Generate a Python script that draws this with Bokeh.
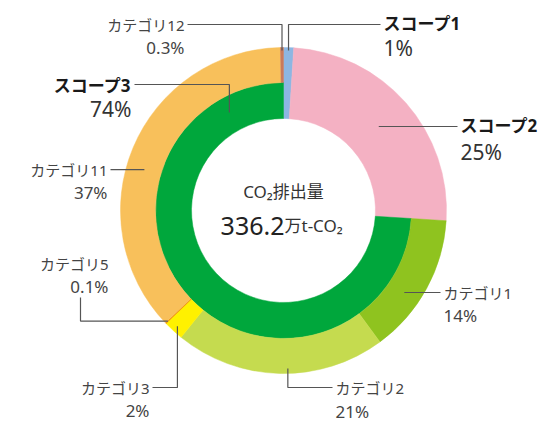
import math
from bokeh.plotting import figure
from bokeh.models import ColumnDataSource, Range1d
from bokeh.core.properties import value
from bokeh.embed import file_html
from bokeh.resources import INLINE

# ---------------- data ----------------
scope_names = ["スコープ1", "スコープ2", "スコープ3"]
scope_pct = [1, 25, 74]
category_names = ["カテゴリ1", "カテゴリ2", "カテゴリ3", "カテゴリ5", "カテゴリ11", "カテゴリ12"]
category_pct = [14, 21, 2, 0.1, 37, 0.3]
center_title = "CO₂排出量"
total_value = "336.2"
total_unit = "万t-CO₂"

# ---------------- styles ----------------
scope_colors = ["#8db6e2", "#f4b1c3", "#00a73c"]
category_colors = ["#8fc31f", "#c5db4f", "#fff100", "#f08a00", "#f8c05b", "#c97a5c"]

W, H = 540, 421
CX, CY = 283, 210          # centre of the donut, pixels from top-left
R_IN, R_MID, R_OUT = 92, 128, 163

FONT_JP = "Noto Sans, Noto Sans CJK JP"
FONT_NUM = "Noto Sans, Noto Sans CJK JP"

# label layout (pixels from top-left): anchor radius, angle shift (deg),
# leader route, text x, alignment, name y, percent y
LAYOUT = {
    "スコープ1": dict(r=160, shift=0, route=[("v", 24), ("h", 380)], tx=383, align="left", ny=23, py=47),
    "スコープ2": dict(r=127, shift=0, route=[("h", 457)], tx=460, align="left", ny=125, py=151),
    "スコープ3": dict(r=112, shift=104.3, route=[("v", 84), ("h", 134)], tx=131, align="right", ny=85, py=108),
    "カテゴリ1": dict(r=146, shift=5.5, route=[("h", 440)], tx=443, align="left", ny=292, py=315),
    "カテゴリ2": dict(r=158, shift=-2.9, route=[("v", 387), ("h", 332)], tx=335, align="left", ny=387, py=411),
    "カテゴリ3": dict(r=157, shift=0, route=[("v", 387), ("h", 152)], tx=149, align="right", ny=387, py=410),
    "カテゴリ5": dict(r=160, shift=0, route=[("h", 80), ("v", 297)], tx=108, align="right", ny=263, py=286),
    "カテゴリ11": dict(r=145, shift=-6.3, route=[("h", 110)], tx=107, align="right", ny=169, py=192),
    "カテゴリ12": dict(r=160, shift=0, route=[("v", 24), ("h", 187)], tx=184, align="right", ny=24, py=47),
}


def Y(ypx):
    return H - ypx


def fmt(v):
    return f"{v:g}%"


# ---------------- slice geometry (fractions clockwise from top) ----------------
scope_total = float(sum(scope_pct))
scope_frac = [v / scope_total for v in scope_pct]
scope_start = [sum(scope_frac[:i]) for i in range(len(scope_frac))]
scope_end = [s + f for s, f in zip(scope_start, scope_frac)]

# categories are the breakdown of scope 3, drawn in its angular span
cat_total = float(sum(category_pct))
s3_start, s3_span = scope_start[2], scope_frac[2]
cat_frac = [s3_span * v / cat_total for v in category_pct]
cat_start = [s3_start + sum(cat_frac[:i]) for i in range(len(cat_frac))]
cat_end = [s + f for s, f in zip(cat_start, cat_frac)]


def to_angle(f):
    return math.pi / 2 - 2 * math.pi * f


wedge_inner = [R_IN, R_IN, R_IN] + [R_MID] * len(category_names)
wedge_outer = [R_OUT, R_OUT, R_MID] + [R_OUT] * len(category_names)
starts = scope_start + cat_start
ends = scope_end + cat_end
wedge_src = ColumnDataSource(dict(
    x=[CX] * len(starts),
    y=[Y(CY)] * len(starts),
    ri=wedge_inner,
    ro=wedge_outer,
    sa=[to_angle(e) for e in ends],
    ea=[to_angle(s) for s in starts],
    color=scope_colors + category_colors,
))

p = figure(width=W, height=H, x_range=Range1d(0, W), y_range=Range1d(0, H),
           output_backend="svg", toolbar_location=None,
           x_axis_location=None, y_axis_location=None, min_border=0)
p.grid.visible = False
p.outline_line_color = None
p.background_fill_color = "white"
p.border_fill_color = "white"

p.annular_wedge(x="x", y="y", inner_radius="ri", outer_radius="ro",
                start_angle="sa", end_angle="ea", fill_color="color",
                line_color="color", line_width=0.5, source=wedge_src)

# ---------------- leaders and labels ----------------
mids = {}
pcts = {}
for n, s, e, v in zip(scope_names, scope_start, scope_end, scope_pct):
    mids[n] = (s + e) / 2
    pcts[n] = v
for n, s, e, v in zip(category_names, cat_start, cat_end, category_pct):
    mids[n] = (s + e) / 2
    pcts[n] = v

xs_lines, ys_lines = [], []
groups = {k: dict(x=[], y=[], text=[], align=[]) for k in ("sname", "spct", "cname", "cpct")}
for name in scope_names + category_names:
    lay = LAYOUT[name]
    th = math.radians(360 * mids[name] + lay["shift"])
    ax = CX + lay["r"] * math.sin(th)
    ay = CY - lay["r"] * math.cos(th)
    px, py = [ax], [ay]
    for kind, val in lay["route"]:
        if kind == "v":
            px.append(px[-1]); py.append(val)
        else:
            px.append(val); py.append(py[-1])
    xs_lines.append(px)
    ys_lines.append([Y(v) for v in py])
    is_scope = name in scope_names
    gn = groups["sname" if is_scope else "cname"]
    gp = groups["spct" if is_scope else "cpct"]
    gn["x"].append(lay["tx"]); gn["y"].append(Y(lay["ny"])); gn["text"].append(name); gn["align"].append(lay["align"])
    gp["x"].append(lay["tx"]); gp["y"].append(Y(lay["py"])); gp["text"].append(fmt(pcts[name])); gp["align"].append(lay["align"])

p.multi_line(xs=xs_lines, ys=ys_lines, line_color="#555555", line_width=1.2)

styles = {
    "sname": dict(size="17px", color="#1a1a1a", style="bold", font=FONT_JP),
    "spct": dict(size="21px", color="#333333", style="normal", font=FONT_NUM),
    "cname": dict(size="15px", color="#444444", style="normal", font=FONT_JP),
    "cpct": dict(size="17px", color="#444444", style="normal", font=FONT_NUM),
}
for key, data in groups.items():
    st = styles[key]
    p.text(x="x", y="y", text="text", text_align="align", text_baseline="middle",
           text_font=value(st["font"]), text_font_size=value(st["size"]),
           text_font_style=st["style"], text_color=st["color"],
           source=ColumnDataSource(data))

# ---------------- centre text ----------------
p.text(x=[CX], y=[Y(191)], text=[center_title], text_align="center", text_baseline="middle",
       text_font=value(FONT_JP), text_font_size=value("17px"), text_color="#333333")
p.text(x=[CX + 1], y=[Y(225)], text=[total_value], text_align="right", text_baseline="alphabetic",
       text_font=value(FONT_NUM), text_font_size=value("25px"), text_color="#222222")
p.text(x=[CX + 1], y=[Y(225)], text=[total_unit], text_align="left", text_baseline="alphabetic",
       text_font=value(FONT_JP), text_font_size=value("17px"), text_color="#333333")

open("out.html", "w").write(file_html(p, INLINE))
